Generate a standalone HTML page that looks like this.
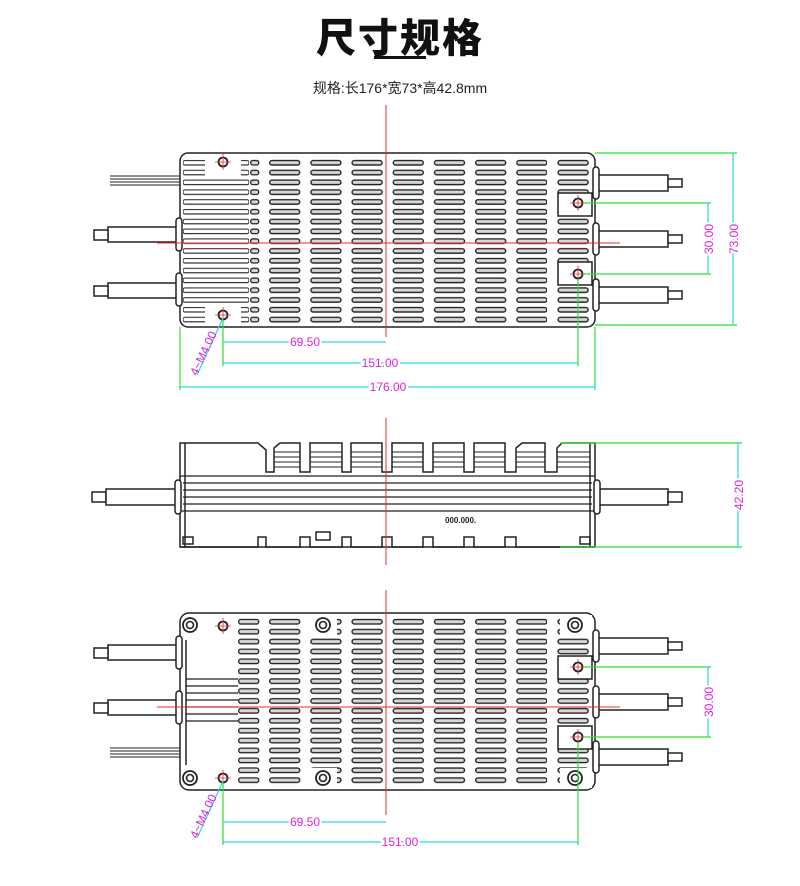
<!DOCTYPE html>
<html><head><meta charset="utf-8"><style>
body{margin:0;background:#fff;width:800px;height:886px;overflow:hidden;font-family:"Liberation Sans","Noto Sans CJK SC",sans-serif}
.t{position:absolute;left:0;width:800px;text-align:center}
</style></head><body>
<div class="t" style="top:6px;font-size:40px;font-weight:900;color:#111;letter-spacing:2px">尺寸规格</div>
<div style="position:absolute;left:374px;top:56px;width:52px;height:3px;background:#111"></div>
<div class="t" style="top:78px;font-size:14px;color:#222">规格:长176*宽73*高42.8mm</div>
<svg width="800" height="886" style="position:absolute;left:0;top:0" xmlns="http://www.w3.org/2000/svg" font-family="Liberation Sans, sans-serif">
<defs>
<pattern id="sl" x="269" y="158" width="41.2" height="9.8" patternUnits="userSpaceOnUse">
<rect x="0.7" y="2.5" width="30" height="4.5" rx="2.2" fill="#d8d8d8" stroke="#222" stroke-width="1.4"/></pattern>
<pattern id="sl2" x="269" y="617" width="41.2" height="9.9" patternUnits="userSpaceOnUse">
<rect x="0.7" y="2.5" width="30" height="4.5" rx="2.2" fill="#d8d8d8" stroke="#222" stroke-width="1.4"/></pattern>
<pattern id="ss" x="250" y="158" width="20" height="9.8" patternUnits="userSpaceOnUse">
<rect x="0.7" y="2.5" width="8" height="4.5" rx="2" fill="#d8d8d8" stroke="#222" stroke-width="1.3"/></pattern>
<pattern id="ls" x="183" y="158" width="70" height="9.8" patternUnits="userSpaceOnUse">
<rect x="0" y="2.5" width="66" height="4.5" rx="2" fill="none" stroke="#333" stroke-width="1.2"/></pattern>
<pattern id="ss2" x="238" y="617" width="31" height="9.9" patternUnits="userSpaceOnUse">
<rect x="0.7" y="2.5" width="20" height="4.5" rx="2" fill="#d8d8d8" stroke="#222" stroke-width="1.3"/></pattern>
</defs>
<g stroke="#222" stroke-width="1.5" fill="none">
<!-- TOP VIEW -->
<rect x="180" y="153" width="415" height="174" rx="8" fill="#fff"/>
<rect x="183" y="156" width="66" height="168" fill="url(#ls)" stroke="none"/>
<rect x="250" y="156" width="18" height="168" fill="url(#ss)" stroke="none"/>
<rect x="269" y="156" width="278" height="168" fill="url(#sl)" stroke="none"/>
<rect x="557" y="156" width="35" height="168" fill="url(#sl)" stroke="none"/>
<rect x="205" y="154" width="36" height="22" fill="#fff" stroke="none"/>
<rect x="205" y="303" width="36" height="22" fill="#fff" stroke="none"/>
<rect x="558" y="193" width="34" height="23" fill="#fff"/>
<rect x="558" y="262" width="34" height="23" fill="#fff"/>
<circle cx="223" cy="162" r="4.5" stroke-width="1.8"/><circle cx="223" cy="315" r="4.5" stroke-width="1.8"/>
<circle cx="578" cy="203" r="4.5" stroke-width="1.8"/><circle cx="578" cy="274" r="4.5" stroke-width="1.8"/>
<g stroke-width="0.9"><line x1="110" y1="176" x2="180" y2="176"/><line x1="110" y1="179" x2="180" y2="179"/><line x1="110" y1="182" x2="180" y2="182"/><line x1="110" y1="185" x2="180" y2="185"/></g>
<rect x="108" y="227" width="70" height="15" fill="#fff"/><rect x="94" y="230" width="14" height="10" fill="#fff"/><rect x="176" y="218" width="6" height="33" rx="3" fill="#fff"/>
<rect x="108" y="283" width="70" height="15" fill="#fff"/><rect x="94" y="286" width="14" height="10" fill="#fff"/><rect x="176" y="273" width="6" height="33" rx="3" fill="#fff"/>
<rect x="597" y="175" width="71" height="16" fill="#fff"/><rect x="668" y="179" width="14" height="8" fill="#fff"/><rect x="593" y="167" width="6" height="32" rx="3" fill="#fff"/>
<rect x="597" y="231" width="71" height="16" fill="#fff"/><rect x="668" y="235" width="14" height="8" fill="#fff"/><rect x="593" y="223" width="6" height="32" rx="3" fill="#fff"/>
<rect x="597" y="287" width="71" height="16" fill="#fff"/><rect x="668" y="291" width="14" height="8" fill="#fff"/><rect x="593" y="279" width="6" height="32" rx="3" fill="#fff"/>
<!-- MID VIEW -->
<path d="M180 547 V443 H258 L266 450 V472 H274 V448 L280 443 H300 V472 H310 V443 H342 V472 H351 V443 H382 V472 H392 V443 H423 V472 H433 V443 H464 V472 H474 V443 H505 V472 H516 V448 L522 443 H545 V472 H557 V448 L562 443 H595 V547 Z" fill="#fff"/>
<g stroke-width="0.9"><path d="M274 452H300M274 457H300M274 462H300M274 467H300M310 452H342M310 457H342M310 462H342M310 467H342M351 452H382M351 457H382M351 462H382M351 467H382M392 452H423M392 457H423M392 462H423M392 467H423M433 452H464M433 457H464M433 462H464M433 467H464M474 452H505M474 457H505M474 462H505M474 467H505M516 452H545M516 457H545M516 462H545M516 467H545M557 452H590M557 457H590M557 462H590M557 467H590"/></g>
<line x1="185" y1="443" x2="185" y2="547"/><line x1="590" y1="443" x2="590" y2="547"/>
<g stroke-width="1.2"><line x1="180" y1="476" x2="595" y2="476"/><line x1="183" y1="483" x2="592" y2="483"/><line x1="183" y1="490" x2="592" y2="490"/><line x1="183" y1="497" x2="592" y2="497"/><line x1="183" y1="504" x2="592" y2="504"/><line x1="180" y1="511" x2="595" y2="511"/></g>
<path d="M180 547 H258 V537 H266 V547 H300 V537 H310 V547 H342 V537 H351 V547 H382 V537 H392 V547 H423 V537 H433 V547 H464 V537 H474 V547 H505 V537 H516 V547 H595"/>
<rect x="316" y="532" width="14" height="8" fill="#fff"/>
<rect x="183" y="537" width="10" height="7"/><rect x="580" y="537" width="10" height="7"/>
<rect x="92" y="492" width="14" height="10" fill="#fff"/><rect x="106" y="489" width="70" height="16" fill="#fff"/><rect x="175" y="480" width="6" height="34" rx="3" fill="#fff"/>
<rect x="597" y="489" width="71" height="16" fill="#fff"/><rect x="668" y="492" width="14" height="10" fill="#fff"/><rect x="594" y="480" width="6" height="34" rx="3" fill="#fff"/>
<!-- BOTTOM VIEW -->
<rect x="180" y="613" width="415" height="177" rx="9" fill="#fff"/>
<line x1="186" y1="640" x2="186" y2="765"/>
<rect x="238" y="615" width="30" height="172" fill="url(#ss2)" stroke="none"/>
<rect x="269" y="615" width="278" height="172" fill="url(#sl2)" stroke="none"/>
<rect x="557" y="615" width="35" height="172" fill="url(#sl2)" stroke="none"/>
<g stroke-width="1.2"><line x1="186" y1="679" x2="238" y2="679"/><line x1="186" y1="686" x2="238" y2="686"/><line x1="186" y1="693" x2="238" y2="693"/><line x1="186" y1="700" x2="238" y2="700"/><line x1="186" y1="707" x2="238" y2="707"/><line x1="186" y1="714" x2="238" y2="714"/><line x1="186" y1="721" x2="238" y2="721"/></g>
<rect x="309" y="615" width="28" height="20" fill="#fff" stroke="none"/><rect x="309" y="768" width="28" height="20" fill="#fff" stroke="none"/>
<rect x="560" y="615" width="32" height="20" fill="#fff" stroke="none"/><rect x="560" y="768" width="32" height="20" fill="#fff" stroke="none"/>
<g fill="#fff" stroke-width="1.8"><circle cx="190" cy="625" r="7"/><circle cx="190" cy="778" r="7"/><circle cx="323" cy="625" r="7"/><circle cx="323" cy="778" r="7"/><circle cx="575" cy="625" r="7"/><circle cx="575" cy="778" r="7"/></g>
<g stroke-width="1.6"><circle cx="190" cy="625" r="3.5"/><circle cx="190" cy="778" r="3.5"/><circle cx="323" cy="625" r="3.5"/><circle cx="323" cy="778" r="3.5"/><circle cx="575" cy="625" r="3.5"/><circle cx="575" cy="778" r="3.5"/></g>
<rect x="558" y="656" width="34" height="23" fill="#fff"/><rect x="558" y="726" width="34" height="23" fill="#fff"/>
<circle cx="223" cy="626" r="4.5" stroke-width="1.8"/><circle cx="223" cy="778" r="4.5" stroke-width="1.8"/>
<circle cx="578" cy="667" r="4.5" stroke-width="1.8"/><circle cx="578" cy="737" r="4.5" stroke-width="1.8"/>
<rect x="108" y="645" width="70" height="15" fill="#fff"/><rect x="94" y="648" width="14" height="10" fill="#fff"/><rect x="176" y="636" width="6" height="33" rx="3" fill="#fff"/>
<rect x="108" y="700" width="70" height="15" fill="#fff"/><rect x="94" y="703" width="14" height="10" fill="#fff"/><rect x="176" y="691" width="6" height="33" rx="3" fill="#fff"/>
<g stroke-width="0.9"><line x1="110" y1="748" x2="180" y2="748"/><line x1="110" y1="751" x2="180" y2="751"/><line x1="110" y1="754" x2="180" y2="754"/><line x1="110" y1="757" x2="180" y2="757"/></g>
<rect x="597" y="638" width="71" height="16" fill="#fff"/><rect x="668" y="642" width="14" height="8" fill="#fff"/><rect x="593" y="630" width="6" height="32" rx="3" fill="#fff"/>
<rect x="597" y="694" width="71" height="16" fill="#fff"/><rect x="668" y="698" width="14" height="8" fill="#fff"/><rect x="593" y="686" width="6" height="32" rx="3" fill="#fff"/>
<rect x="597" y="749" width="71" height="16" fill="#fff"/><rect x="668" y="753" width="14" height="8" fill="#fff"/><rect x="593" y="741" width="6" height="32" rx="3" fill="#fff"/>
</g>
<!-- red center lines -->
<g stroke="#e03030" stroke-width="1">
<line x1="386" y1="105" x2="386" y2="337"/><line x1="157" y1="243" x2="620" y2="243"/>
<line x1="386" y1="418" x2="386" y2="565"/>
<line x1="386" y1="590" x2="386" y2="815"/><line x1="157" y1="707" x2="620" y2="707"/>
<g stroke-width="0.8"><path d="M215 162h16M223 154v16M215 315h16M223 307v16M570 203h16M578 195v16M570 274h16M578 266v16M215 626h16M223 618v16M215 778h16M223 770v16M570 667h16M578 659v16M570 737h16M578 729v16"/></g>
</g>
<!-- green extension -->
<g stroke="#33dd33" stroke-width="1.2" fill="none">
<path d="M223 320V366M578 279V366M180 327V390M595 327V390M595 153H737M595 325H737M583 203H711M583 274H711"/>
<path d="M560 443H742M560 547H742"/>
<path d="M223 783V845M578 742V845M583 667H711M583 737H711"/>
</g>
<!-- cyan dim -->
<g stroke="#22dddd" stroke-width="1.2" fill="none">
<path d="M223 342H386M223 363H578M180 387H595M733 153V325M708 203V274M738 443V547M223 822H386M223 842H578M708 667V737M223 318L197 375M223 781L197 838"/>
</g>
<g fill="#dd22dd" font-size="12" text-anchor="middle">
<text x="305" y="346" style="paint-order:stroke" stroke="#fff" stroke-width="4">69.50</text>
<text x="380" y="367" style="paint-order:stroke" stroke="#fff" stroke-width="4">151.00</text>
<text x="388" y="391" style="paint-order:stroke" stroke="#fff" stroke-width="4">176.00</text>
<text transform="translate(738,239) rotate(-90)" style="paint-order:stroke" stroke="#fff" stroke-width="4">73.00</text>
<text transform="translate(713,239) rotate(-90)" style="paint-order:stroke" stroke="#fff" stroke-width="4">30.00</text>
<text transform="translate(743,495) rotate(-90)" style="paint-order:stroke" stroke="#fff" stroke-width="4">42.20</text>
<text transform="translate(713,702) rotate(-90)" style="paint-order:stroke" stroke="#fff" stroke-width="4">30.00</text>
<text x="305" y="826" style="paint-order:stroke" stroke="#fff" stroke-width="4">69.50</text>
<text x="400" y="846" style="paint-order:stroke" stroke="#fff" stroke-width="4">151.00</text>
<text transform="translate(207,355) rotate(-65)">4~M4.00</text>
<text transform="translate(207,818) rotate(-65)">4~M4.00</text>
</g>
<text x="445" y="523" font-size="8" fill="#222" font-weight="bold">000.000.</text>
</svg>
</body></html>
